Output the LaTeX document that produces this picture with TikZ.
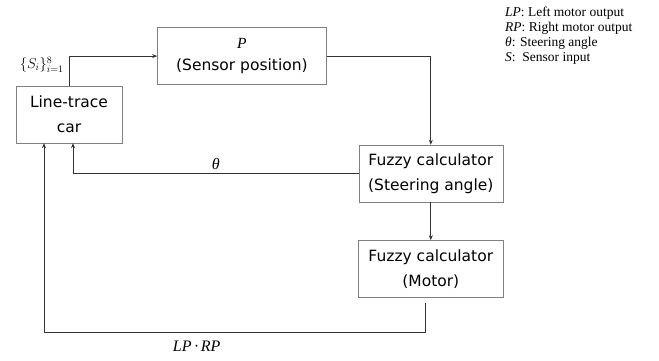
\documentclass[tikz,border=0pt]{standalone}
\usepackage{fontspec}
\setmainfont{DejaVu Sans}
\newfontfamily\tms{Liberation Serif}
\usetikzlibrary{positioning,arrows.meta}

\begin{document}
\begin{tikzpicture}[
  font=\fontsize{15.5}{25}\selectfont,
  box/.style={draw=black!50,align=center,minimum height=57pt,inner sep=2pt},
  wire/.style={draw=black!80,line width=0.8pt},
  lbl/.style={font=\tms\itshape\fontsize{16}{18}\selectfont},
  >={Stealth[length=5pt,width=4pt]}]
\useasboundingbox (-69pt,-246.5pt) rectangle (590pt,114.5pt);
\node[box,minimum width=106pt] (car) at (0,0) {Line-trace\\car};
\node[box,minimum width=169pt,anchor=south west] (pos) at ([xshift=35pt,yshift=1pt]car.north east) {{\tms\itshape P}\\[-3pt](Sensor position)};
\node[box,minimum width=144pt,below right=60pt and 32pt of pos.south east] (steer) {Fuzzy calculator\\(Steering angle)};
\node[box,minimum width=145pt,below=38pt of steer] (motor) {Fuzzy calculator\\(Motor)};
\node[anchor=north west,align=left,inner sep=0pt,font=\tms\fontsize{13.5}{15}\selectfont] (legend) at (436pt,107.5pt)
  {\textit{LP}: Left motor output\\\textit{RP}: Right motor output\\\textit{θ}: Steering angle\\\textit{S}:\ \ Sensor input};
\draw[wire,->] (car.north) |- node[pos=0.36,left=5pt,inner sep=0pt,font=\fontsize{14.5}{16}\selectfont]{$\{S_i\}_{i=1}^{8}$} (pos.west);
\draw[wire,->] (pos.east) -| (steer.north);
\draw[wire,->] (steer.west) -| node[pos=0.25,above,lbl]{θ} ([xshift=4pt]car.south);
\draw[wire,->] (steer) -- (motor);
\draw[wire,->] ([xshift=-5pt,yshift=-5pt]motor.south) -- ++(0,-30pt) -| node[pos=0.3,below=5pt,lbl]{LP\,·\,RP} ([xshift=-25pt]car.south);
\end{tikzpicture}
\end{document}
